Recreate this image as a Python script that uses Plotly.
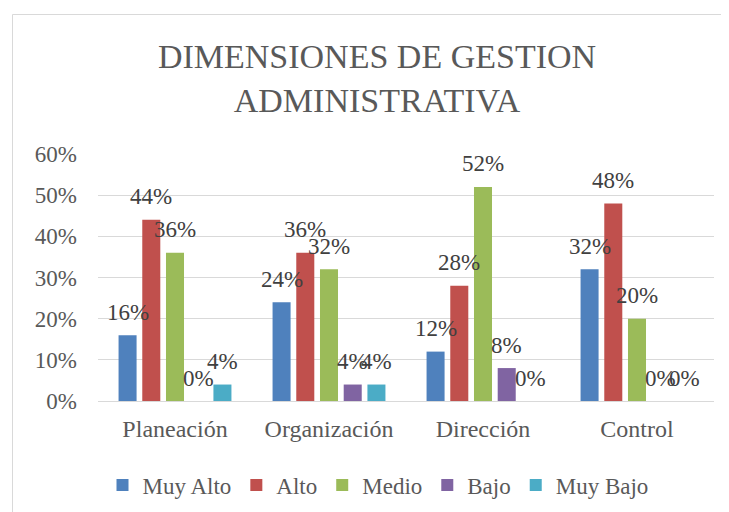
import plotly.graph_objects as go

# Data (percent)
categories = ["Planeación", "Organización", "Dirección", "Control"]
series_names = ["Muy Alto", "Alto", "Medio", "Bajo", "Muy Bajo"]
muy_alto = [16, 24, 12, 32]
alto = [44, 36, 28, 48]
medio = [36, 32, 52, 20]
bajo = [0, 4, 8, 0]
muy_bajo = [4, 4, 0, 0]
y_ticks = [0, 10, 20, 30, 40, 50, 60]
y_tick_labels = ["0%", "10%", "20%", "30%", "40%", "50%", "60%"]

colors = ["#4F81BD", "#C0504D", "#9BBB59", "#8064A2", "#4BACC6"]
series = [muy_alto, alto, medio, bajo, muy_bajo]

FONT = "Liberation Serif"
BARGAP = 0.23

fig = go.Figure()

for name, vals, col in zip(series_names, series, colors):
    fig.add_trace(go.Bar(
        x=categories,
        y=vals,
        name=name,
        marker=dict(color=col, line=dict(width=0)),
    ))

# data labels above each bar (Excel style, a bit higher than plotly's outside text)
n = len(series)
slot = (1 - BARGAP) / n
for j, vals in enumerate(series):
    for i, v in enumerate(vals):
        fig.add_annotation(
            x=i - (1 - BARGAP) / 2 + (j + 0.5) * slot,
            y=v,
            text=f"{v}%",
            showarrow=False,
            yanchor="middle",
            xanchor="center",
            yshift=23,
            font=dict(family=FONT, size=23, color="#404040"),
        )

# page is offset by the browser's 8px body margin
PAGE_W, PAGE_H, OFF = 729, 512, 8
W, H = PAGE_W - OFF, PAGE_H - OFF
# plot area in page pixels
px0, px1, py0, py1 = 98, 714, 154, 401
L, R, T, B = px0 - OFF, PAGE_W - px1, py0 - OFF, PAGE_H - py1
pw, ph = px1 - px0, py1 - py0

# outer chart border
fig.add_shape(
    type="rect", xref="paper", yref="paper",
    x0=(12.5 - px0) / pw, x1=(PAGE_W + 10 - px0) / pw,
    y0=-(B + 10) / ph, y1=1 + (py0 - 14.5) / ph,
    line=dict(color="#d9d9d9", width=1),
    fillcolor="rgba(0,0,0,0)",
    layer="below",
)

fig.update_layout(
    width=W,
    height=H,
    margin=dict(l=L, r=R, t=T, b=B, autoexpand=False),
    paper_bgcolor="white",
    plot_bgcolor="white",
    barmode="group",
    bargap=BARGAP,
    bargroupgap=0.24,
    title=dict(
        text="DIMENSIONES DE GESTION<br>ADMINISTRATIVA",
        font=dict(family=FONT, size=34, color="#595959"),
        x=(377 - OFF) / W, xref="container", xanchor="center",
        y=1 - (68 - OFF) / H, yref="container", yanchor="middle",
    ),
    font=dict(family=FONT, size=23, color="#595959"),
    xaxis=dict(
        showgrid=False,
        showline=False,
        ticks="",
        ticklabelstandoff=11,
        tickfont=dict(family=FONT, size=24, color="#595959"),
    ),
    yaxis=dict(
        range=[0, 60],
        tickmode="array",
        tickvals=y_ticks,
        ticktext=y_tick_labels,
        showgrid=True,
        gridcolor="#d9d9d9",
        gridwidth=1,
        zeroline=True,
        zerolinecolor="#d9d9d9",
        zerolinewidth=1,
        showline=False,
        ticks="",
        ticklabelstandoff=20,
        tickfont=dict(family=FONT, size=23, color="#595959"),
    ),
    legend=dict(
        orientation="h",
        x=(378 - px0) / pw,
        xanchor="center",
        y=-(485 - py1) / ph,
        yanchor="middle",
        font=dict(family=FONT, size=23, color="#595959"),
        itemwidth=30,
        traceorder="normal",
    ),
    showlegend=True,
)

fig.write_html("out.html")
